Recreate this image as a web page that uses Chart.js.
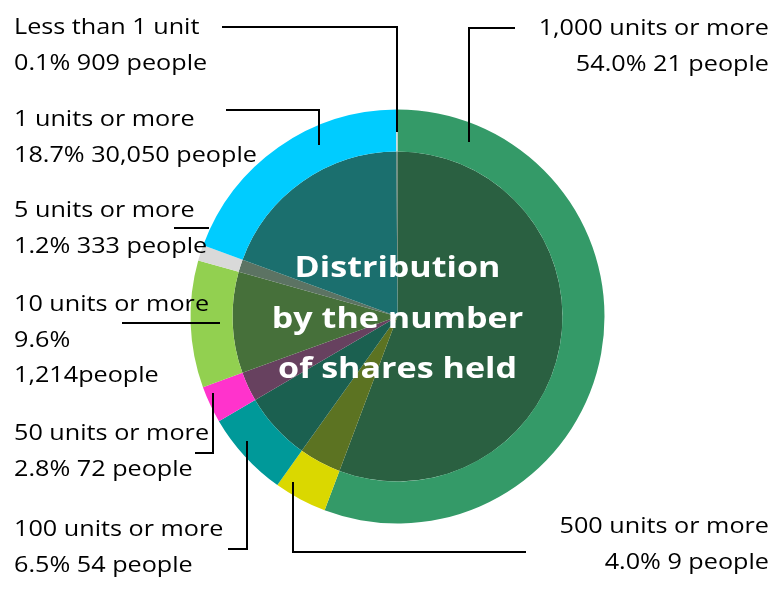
<!DOCTYPE html>
<html><head><meta charset="utf-8">
<script src="https://cdn.jsdelivr.net/npm/chart.js@4.4.1/dist/chart.umd.min.js"></script>
<style>html,body{margin:0;padding:0;background:#fff;overflow:hidden}#wrap{width:782px;height:601px;position:relative}</style>
</head><body><div id="wrap"><canvas id="c" width="782" height="601"></canvas></div>
<script>
// ---- data ----
const categories = ['1,000 units or more','500 units or more','100 units or more','50 units or more','10 units or more','5 units or more','1 units or more','Less than 1 unit'];
const sharePercent = [54.0, 4.0, 6.5, 2.8, 9.6, 1.2, 18.7, 0.1];
const people = ['21', '9', '54', '72', '1,214', '333', '30,050', '909'];
const centerTitle = ['Distribution', 'by the number', 'of shares held'];

// ---- styles ----
const colors = ['#349A68','#DAD800','#009999','#FF33CC','#92D050','#D9D9D9','#00CCFF','#D9D9D9'];
const overlay = [38, 71, 48, 0.7];
function blend(hex){
  const n = parseInt(hex.slice(1),16);
  const c = [(n>>16)&255,(n>>8)&255,n&255];
  const r = c.map((v,i)=>Math.round(overlay[3]*overlay[i] + (1-overlay[3])*v));
  return 'rgb('+r.join(',')+')';
}
const innerColors = colors.map(blend);

function labelLines(i){
  const pct = sharePercent[i].toFixed(1) + '%';
  if (i === 4) return [categories[i], pct, people[i] + 'people'];
  return [categories[i], pct + ' ' + people[i] + ' people'];
}

// ---- annotation layout (px, alphabetic baselines) ----
const labelLayout = [
  {x:769, y:35, align:'right', path:[[515,28],[469,28],[469,142]]},
  {x:769, y:533, align:'right', path:[[526,552],[293,552],[293,482]]},
  {x:14, y:536, align:'left', path:[[228,549],[247,549],[247,441]]},
  {x:14, y:440, align:'left', path:[[195,453],[213,453],[213,393]]},
  {x:14, y:311, align:'left', path:[[122,323],[220,323]]},
  {x:14, y:217, align:'left', path:[[174,228],[209,228]]},
  {x:14, y:126, align:'left', path:[[226,110],[319,110],[319,145]]},
  {x:14, y:34, align:'left', path:[[222,27],[397,27],[397,132]]}
];
const LINE_H = 35.5;
const FONT = '"Open Sans", "Noto Sans", sans-serif';
const LABEL_SX = 1.145, TITLE_SX = 1.175;

function stretchedText(ctx, t, x, y, sx){
  ctx.save();
  ctx.translate(x, y);
  ctx.scale(sx, 1);
  ctx.fillText(t, 0, 0);
  ctx.restore();
}

const annotations = {
  id:'annotations',
  afterDraw(chart){
    const ctx = chart.ctx;
    ctx.save();
    ctx.strokeStyle = '#000';
    ctx.lineWidth = 2;
    labelLayout.forEach(l=>{
      ctx.beginPath();
      l.path.forEach((p,k)=> k ? ctx.lineTo(p[0],p[1]) : ctx.moveTo(p[0],p[1]));
      ctx.stroke();
    });
    ctx.fillStyle = '#000';
    ctx.font = '22px ' + FONT;
    ctx.textBaseline = 'alphabetic';
    labelLayout.forEach((l,i)=>{
      ctx.textAlign = l.align;
      labelLines(i).forEach((t,k)=> stretchedText(ctx, t, l.x, l.y + k*LINE_H, LABEL_SX));
    });
    const arc = chart.getDatasetMeta(0).data[0];
    const cx = arc.x, cy = arc.y;
    ctx.fillStyle = '#fff';
    ctx.font = 'bold 29px ' + FONT;
    ctx.textAlign = 'center';
    centerTitle.forEach((t,k)=> stretchedText(ctx, t, cx, cy - 39.5 + k*50.5, TITLE_SX));
    ctx.restore();
  }
};

new Chart(document.getElementById('c'), {
  type:'doughnut',
  data:{
    labels:categories,
    datasets:[
      {data:sharePercent, backgroundColor:colors, borderWidth:0, weight:42},
      {data:sharePercent, backgroundColor:innerColors, borderWidth:0, weight:165}
    ]
  },
  options:{
    responsive:false,
    animation:false,
    cutout:0,
    layout:{padding:{left:190.5, right:177.5, top:109.5, bottom:77.5}},
    plugins:{legend:{display:false}, tooltip:{enabled:false}}
  },
  plugins:[annotations]
});
</script>
</body></html>
